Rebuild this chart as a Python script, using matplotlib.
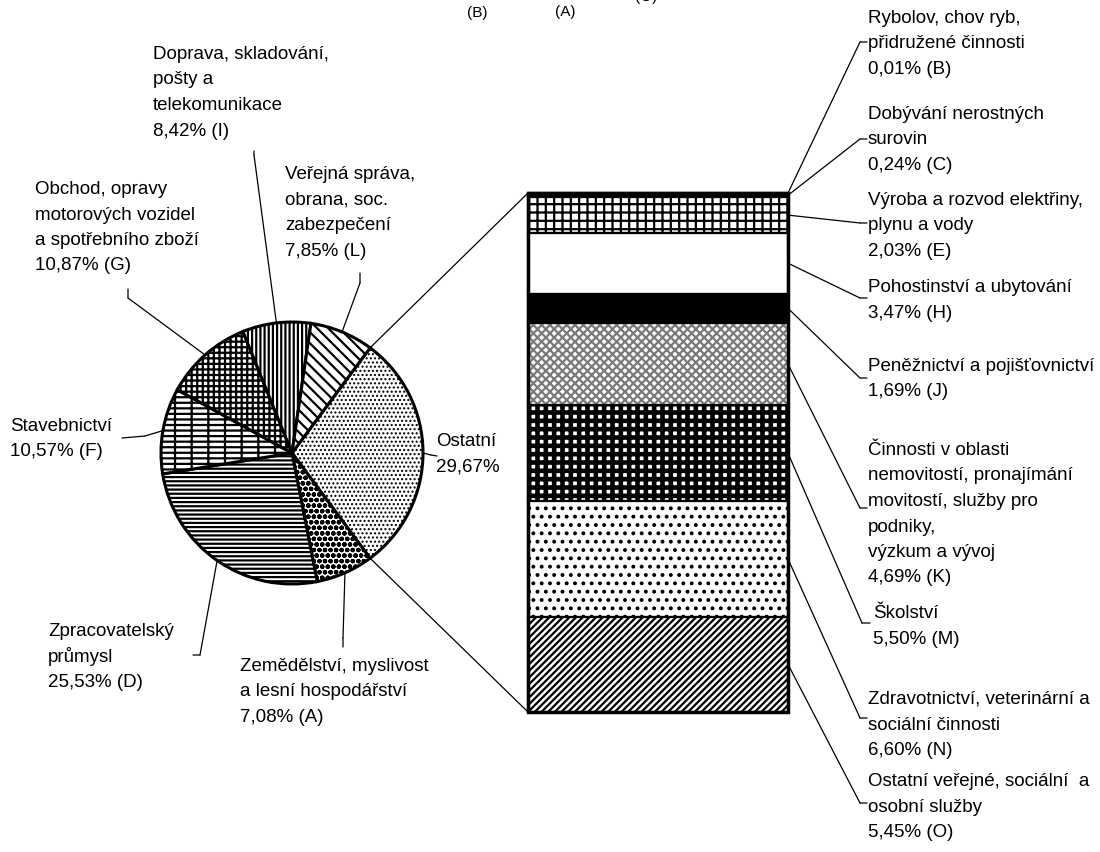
import numpy as np
import matplotlib
matplotlib.use("Agg")
import matplotlib.pyplot as plt
from matplotlib.patches import ConnectionPatch

plt.rcParams['font.family'] = ['Liberation Sans', 'DejaVu Sans']
plt.rcParams['hatch.linewidth'] = 1.6

# koláč - podíl odvětví (od "Ostatní" po směru hodin)
pie_labels = ["Ostatní\n29,67%",
              "Zemědělství, myslivost\na lesní hospodářství\n7,08% (A)",
              "Zpracovatelský\nprůmysl\n25,53% (D)",
              "Stavebnictví\n10,57% (F)",
              "Obchod, opravy\nmotorových vozidel\na spotřebního zboží\n10,87% (G)",
              "Doprava, skladování,\npošty a\ntelekomunikace\n8,42% (I)",
              "Veřejná správa,\nobrana, soc.\nzabezpečení\n7,85% (L)"]
pie_values = [29.67, 7.08, 25.53, 10.57, 10.87, 8.42, 7.85]
pie_hatches = ['....', 'ooo', '----', '---|', '+++', '||||', '\\\\\\']
pie_hatch_lw = [1.0, 1.6, 1.6, 1.6, 1.6, 1.6, 1.6]

# sloupec - rozpad "Ostatní" (shora dolů)
bar_labels = ["Rybolov, chov ryb,\npřidružené činnosti\n0,01% (B)",
              "Dobývání nerostných\nsurovin\n0,24% (C)",
              "Výroba a rozvod elektřiny,\nplynu a vody\n2,03% (E)",
              "Pohostinství a ubytování\n3,47% (H)",
              "Peněžnictví a pojišťovnictví\n1,69% (J)",
              "Činnosti v oblasti\nnemovitostí, pronajímání\nmovitostí, služby pro\npodniky,\nvýzkum a vývoj\n4,69% (K)",
              "Školství\n5,50% (M)",
              "Zdravotnictví, veterinární a\nsociální činnosti\n6,60% (N)",
              "Ostatní veřejné, sociální  a\nosobní služby\n5,45% (O)"]
bar_values = [0.01, 0.24, 2.03, 3.47, 1.69, 4.69, 5.50, 6.60, 5.45]
bar_hatches = ['', '', '++', '', '', 'xxxx', '++', '..', '/////']
bar_faces = ['white', 'black', 'white', 'white', 'black', 'white', 'white', 'white', 'white']
bar_edges = ['black', 'black', 'black', 'black', 'black', '#7a7a7a', 'black', 'black', 'black']
bar_hatch_lw = [1.6, 1.6, 1.6, 1.6, 1.6, 1.6, 3.3, 1.6, 1.6]

W, H = 1100, 852
FS = 13.5
PITCH = 25.5

fig = plt.figure(figsize=(W / 100, H / 100), dpi=100)


def fp(x, y):
    # pixely shora -> figure pixels
    return (x, H - y)


def label(txt, x, y, size=FS):
    # y = stred prvniho radku
    for i, line in enumerate(txt.split("\n")):
        fig.text(x / W, (H - (y + 6 + i * PITCH)) / H, line, fontsize=size,
                 va='baseline', ha='left')


def leader(ax, xy, knee, end):
    c = ConnectionPatch(xyA=xy, coordsA=ax.transData, xyB=fp(*knee),
                        coordsB='figure pixels', color='black', lw=0.9)
    fig.add_artist(c)
    c2 = ConnectionPatch(xyA=fp(*knee), coordsA='figure pixels', xyB=fp(*end),
                         coordsB='figure pixels', color='black', lw=0.9)
    fig.add_artist(c2)


# --- kolac ---
cx, cy, r = 292, 453, 131
ax1 = fig.add_axes([(cx - r) / W, (H - cy - r) / H, 2 * r / W, 2 * r / H])
wedges, _ = ax1.pie(pie_values, startangle=180 * pie_values[0] / sum(pie_values),
                    counterclock=False, hatch=pie_hatches,
                    wedgeprops=dict(facecolor='white', edgecolor='black', linewidth=2.2))
for w, hl in zip(wedges, pie_hatch_lw):
    w.set_clip_on(False)
    if hasattr(w, 'set_hatch_linewidth'):
        w.set_hatch_linewidth(hl)
ax1.set_xlim(-1, 1)
ax1.set_ylim(-1, 1)
ax1.axis('off')

# pozice popisku: text (x, y prvniho radku), zlom, konec
pie_pos = [((436, 440), (431, 455), (437, 456)),
           ((240, 665), (343, 638), (343, 647)),
           ((48, 630), (200, 655), (193, 655)),
           ((10, 425), (145, 436), (122, 438)),
           ((35, 188), (128, 298), (128, 289)),
           ((153, 53), (254, 155), (254, 151)),
           ((285, 173), (360, 283), (360, 273))]
for w, txt, (tp, knee, end) in zip(wedges, pie_labels, pie_pos):
    mid = np.deg2rad((w.theta1 + w.theta2) / 2)
    leader(ax1, (np.cos(mid), np.sin(mid)), knee, end)
    label(txt, *tp)

# --- sloupec ---
bl, br, bt, bb = 528, 788, 193, 712
ax2 = fig.add_axes([bl / W, (H - bb) / H, (br - bl) / W, (bb - bt) / H])
total = sum(bar_values)
top = total
mids = []
for v, h, fc, ec, hl in zip(bar_values, bar_hatches, bar_faces, bar_edges, bar_hatch_lw):
    with plt.rc_context({'hatch.linewidth': hl}):
        b = ax2.bar(0, v, bottom=top - v, width=1, color=fc, edgecolor=ec,
                    hatch=h, linewidth=1.5)
    if hasattr(b[0], 'set_hatch_linewidth'):
        b[0].set_hatch_linewidth(hl)
    b[0].set_clip_on(False)
    mids.append(top - v / 2)
    top -= v
# hranice segmentu cerne
top = total
for v in bar_values:
    ax2.bar(0, v, bottom=top - v, width=1, fill=False, edgecolor='black',
            linewidth=1.5, clip_on=False)
    top -= v
ax2.bar(0, total, width=1, fill=False, edgecolor='black', linewidth=2.5, clip_on=False)
ax2.set_xlim(-0.5, 0.5)
ax2.set_ylim(0, total)
ax2.axis('off')

bar_pos = [((868, 17), (860, 42), (867, 42)),
           ((868, 113), (860, 139), (867, 139)),
           ((868, 199), (860, 223), (867, 223)),
           ((868, 286), (860, 298), (867, 298)),
           ((868, 365), (860, 378), (867, 378)),
           ((868, 449), (860, 508), (867, 508)),
           ((873, 612), (862, 623), (870, 623)),
           ((868, 698), (860, 718), (867, 718)),
           ((868, 780), (860, 803), (867, 803))]
for m, txt, (tp, knee, end) in zip(mids, bar_labels, bar_pos):
    leader(ax2, (0.5, m), knee, end)
    label(txt, *tp)

# spojnice kolac -> sloupec (theta2 = horni hrana, theta1 = dolni)
ost = wedges[0]
for ang, yb in [(ost.theta2, total), (ost.theta1, 0)]:
    a = np.deg2rad(ang)
    con = ConnectionPatch(xyA=(np.cos(a), np.sin(a)), coordsA=ax1.transData,
                          xyB=(-0.5, yb), coordsB=ax2.transData, color='black', lw=0.9)
    fig.add_artist(con)

# oriznute zbytky popisku nahore
for t, x, y in [("(B)", 477, 13), ("(A)", 565, 12), ("(O)", 646, -3)]:
    fig.text(x / W, (H - y) / H, t, fontsize=11, ha='center', va='center')

fig.savefig("out.png", dpi=100)
